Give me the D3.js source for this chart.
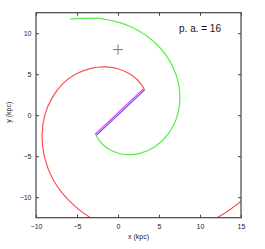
<!DOCTYPE html>
<html>
<head>
<meta charset="utf-8">
<script src="https://cdn.jsdelivr.net/npm/d3@7"></script>
<style>
  body { margin: 0; background: #fff; }
  text { font-family: "Liberation Sans", Arial, sans-serif; fill: #222; }
</style>
</head>
<body>
<div id="chart"></div>
<script>
var xTicks = [-10, -5, 0, 5, 10, 15];
var yTicks = [-10, -5, 0, 5, 10];
var label = "p. a. = 16";

// arm traces (kpc), points past the frame are guesses
var redArm = [[3.2,3.2],[2.44,4.23],[1.36,5.08],[0,5.67],[-1.58,5.9],[-3.3,5.72],
  [-5.08,5.06],[-6.7,3.88],[-8.02,2.14],[-8.93,0],[-9.26,-2.48],[-8.95,-5.17],
  [-7.9,-7.88],[-6.0,-10.39],[-3.35,-12.5],[0,-13.94],[3.89,-14.52],[8.1,-14.03],
  [12.35,-12.35],[16.3,-9.41]];
var greenArm = [[-2.8,-2.2],[-1.99,-3.45],[-0.76,-4.33],[0.84,-4.79],[2.69,-4.65],
  [4.55,-3.82],[6.16,-2.24],[7.25,0],[7.53,2.74],[6.78,5.69],[4.89,8.47],[1.88,10.64],
  [-2.07,11.77],[-4.3,11.8],[-5.86,11.7]];
var barMagenta = [[-2.75,-2.3],[3.15,3.25]];
var barBlue = [[-2.62,-2.43],[3.28,3.12]];
var centre = [[0, 8]];

var margin = {top: 12.7, right: 24, bottom: 31.3, left: 36},
    width = 265 - margin.left - margin.right,
    height = 249 - margin.top - margin.bottom;

var svg = d3.select("#chart").append("svg")
    .attr("width", 265)
    .attr("height", 249);
var g = svg.append("g")
    .attr("transform", "translate(" + margin.left + "," + margin.top + ")");

var x = d3.scaleLinear().domain([-10, 15]).range([0, width]);
var y = d3.scaleLinear().domain([-12.5, 12.5]).range([height, 0]);

g.append("clipPath").attr("id", "clip")
  .append("rect").attr("width", width).attr("height", height);

var line = d3.line()
    .x(function(d) { return x(d[0]); })
    .y(function(d) { return y(d[1]); })
    .curve(d3.curveCatmullRom.alpha(0.5));
var straight = d3.line()
    .x(function(d) { return x(d[0]); })
    .y(function(d) { return y(d[1]); });

var plot = g.append("g").attr("clip-path", "url(#clip)");
plot.append("path").datum(redArm).attr("d", line)
  .attr("fill", "none").attr("stroke", "#ff5050").attr("stroke-width", 1.2);
plot.append("path").datum(greenArm).attr("d", line)
  .attr("fill", "none").attr("stroke", "#55ee44").attr("stroke-width", 1.2);
plot.append("path").datum(barMagenta).attr("d", straight)
  .attr("fill", "none").attr("stroke", "#ff44ff").attr("stroke-width", 1.3);
plot.append("path").datum(barBlue).attr("d", straight)
  .attr("fill", "none").attr("stroke", "#5555ff").attr("stroke-width", 1.3);

plot.selectAll(".centre").data(centre).enter().append("path")
  .attr("class", "centre")
  .attr("d", function(d) {
    var cx = x(d[0]), cy = y(d[1]);
    return "M" + (cx - 5) + "," + cy + "H" + (cx + 5) + "M" + cx + "," + (cy - 5) + "V" + (cy + 5);
  })
  .attr("stroke", "#777").attr("stroke-width", 1).attr("fill", "none");

// axes with inward ticks on all sides
function style(a) {
  a.select(".domain").remove();
  a.selectAll("line").attr("stroke", "#444");
  a.selectAll("text").style("font-size", "7px").style("fill", "#222");
}
g.append("g").attr("transform", "translate(0," + height + ")")
  .call(d3.axisBottom(x).tickValues(xTicks).tickSizeInner(-3).tickSizeOuter(0).tickPadding(6))
  .call(style);
g.append("g")
  .call(d3.axisTop(x).tickValues(xTicks).tickSizeInner(-3).tickSizeOuter(0).tickFormat(""))
  .call(style);
g.append("g")
  .call(d3.axisLeft(y).tickValues(yTicks).tickSizeInner(-3).tickSizeOuter(0).tickPadding(4.5))
  .call(style);
g.append("g").attr("transform", "translate(" + width + ",0)")
  .call(d3.axisRight(y).tickValues(yTicks).tickSizeInner(-3).tickSizeOuter(0).tickFormat(""))
  .call(style);

g.append("rect").attr("width", width).attr("height", height)
  .attr("fill", "none").attr("stroke", "#444").attr("stroke-width", 1.2);

g.append("text")
  .attr("x", width / 2).attr("y", height + 21)
  .attr("text-anchor", "middle").style("font-size", "7px")
  .text("x (kpc)");
g.append("text")
  .attr("transform", "translate(" + (-25) + "," + (height / 2 - 3) + ") rotate(-90)")
  .attr("text-anchor", "middle").style("font-size", "7px")
  .text("y (kpc)");

g.append("text")
  .attr("x", width - 20).attr("y", 19.6)
  .attr("text-anchor", "end").style("font-size", "10px").style("fill", "#111")
  .text(label);
</script>
</body>
</html>
